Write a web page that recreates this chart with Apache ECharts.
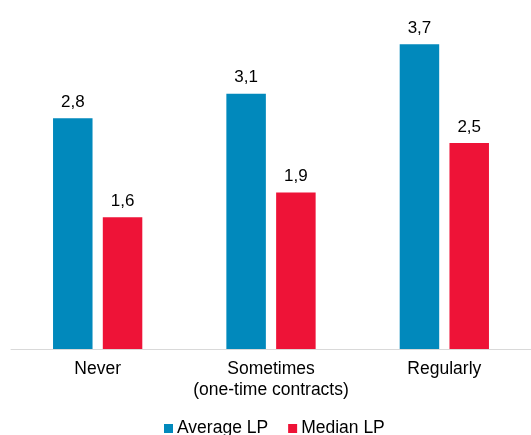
<!DOCTYPE html>
<html>
<head>
<meta charset="utf-8">
<script src="https://cdn.jsdelivr.net/npm/echarts@6/dist/echarts.min.js"></script>
<style>
  html, body { margin: 0; padding: 0; background: #fff; }
  #chart { width: 531px; height: 435px; }
</style>
</head>
<body>
<div id="chart"></div>
<script>
// Contract frequency groups and LP values per group
const categories = ['Never', 'Sometimes\n(one-time contracts)', 'Regularly'];
const averageLP = [2.8, 3.1, 3.7];
const medianLP = [1.6, 1.9, 2.5];
const seriesNames = ['Average LP', 'Median LP'];

const FONT = '"Liberation Sans", Arial, sans-serif';
const fmt = p => String(p.value).replace('.', ',');

const chart = echarts.init(document.getElementById('chart'));
chart.setOption({
  animation: false,
  textStyle: { fontFamily: FONT },
  grid: { left: 11, width: 524, top: 19.5, bottom: 86 },
  xAxis: {
    type: 'category',
    data: categories,
    axisLine: { lineStyle: { color: '#d9d9d9', width: 1 } },
    axisTick: { show: false },
    axisLabel: {
      color: '#000', fontSize: 17.5, fontFamily: FONT,
      lineHeight: 21, margin: 10, interval: 0
    }
  },
  yAxis: { type: 'value', min: 0, max: 4, show: false, splitLine: { show: false } },
  legend: {
    data: seriesNames,
    top: 418,
    left: 164,
    padding: 0,
    itemWidth: 9,
    itemHeight: 9,
    itemGap: 20,
    icon: 'rect',
    textStyle: { color: '#000', fontSize: 17.5, fontFamily: FONT, lineHeight: 21, padding: [0, 0, 0, -1] }
  },
  series: [
    {
      name: seriesNames[0], type: 'bar', data: averageLP,
      barWidth: 39.5, barGap: '26%',
      itemStyle: { color: '#0189BC' },
      label: { show: true, position: 'top', distance: 6, formatter: fmt,
        color: '#000', fontSize: 17, lineHeight: 20, fontFamily: FONT }
    },
    {
      name: seriesNames[1], type: 'bar', data: medianLP,
      barWidth: 39.5, barGap: '26%',
      itemStyle: { color: '#EE1337' },
      label: { show: true, position: 'top', distance: 6, formatter: fmt,
        color: '#000', fontSize: 17, lineHeight: 20, fontFamily: FONT }
    }
  ]
});
</script>
</body>
</html>
